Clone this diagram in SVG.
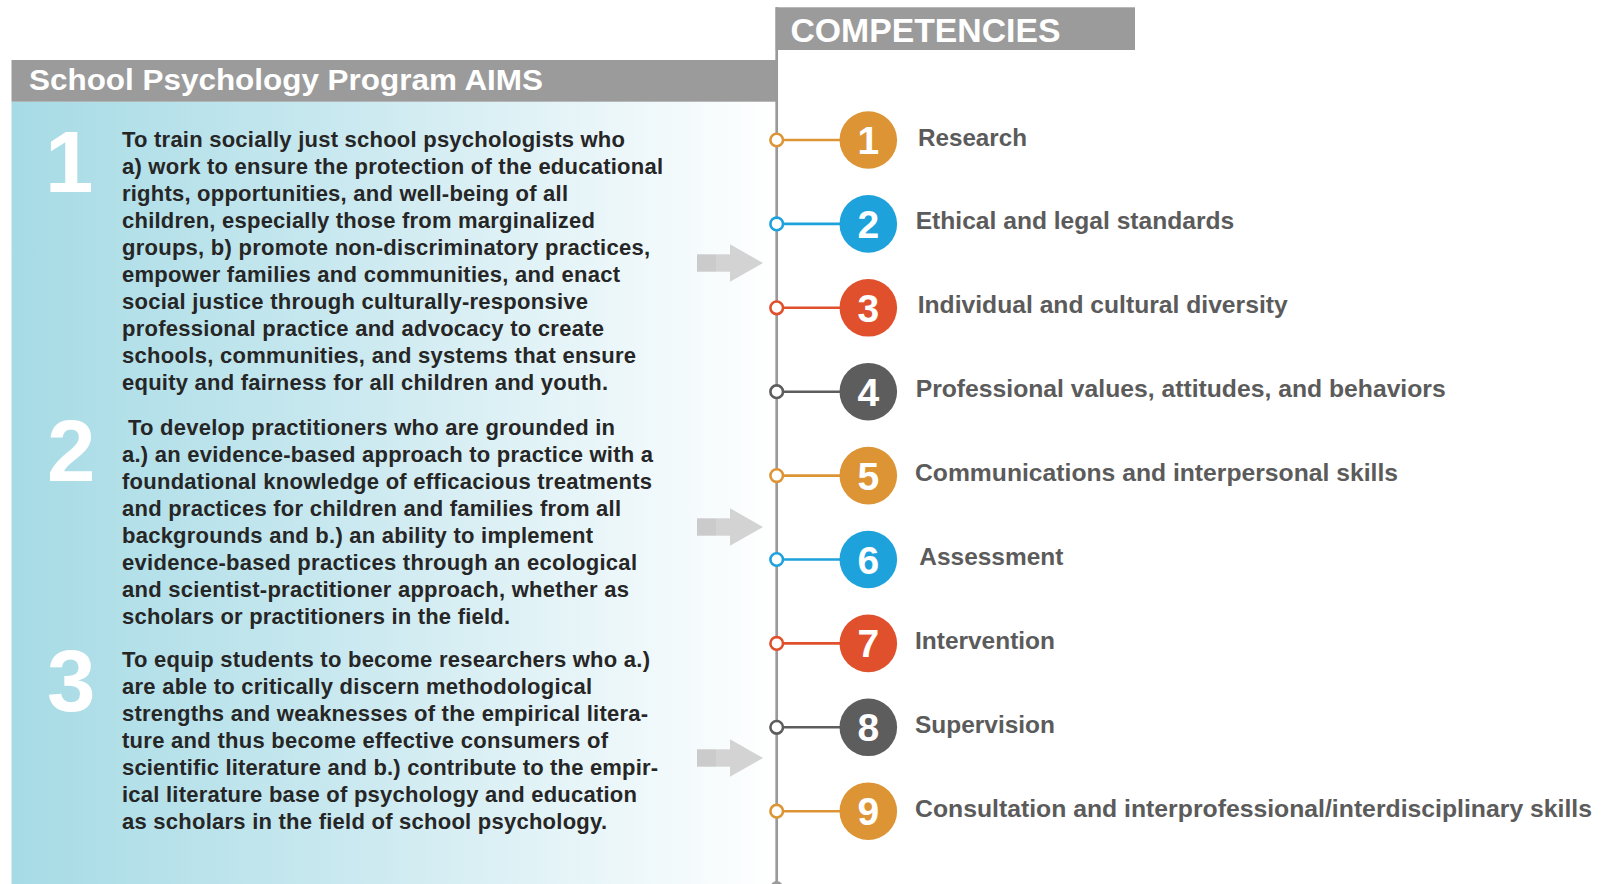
<svg xmlns="http://www.w3.org/2000/svg" width="1604" height="884" viewBox="0 0 1604 884">
<defs>
<linearGradient id="panelGrad" x1="0" y1="0" x2="1" y2="0">
<stop offset="0" stop-color="#a6dbe5"/>
<stop offset="0.45" stop-color="#cbe9f0"/>
<stop offset="1" stop-color="#ffffff"/>
</linearGradient>
<style>
.hdr{font-family:"Liberation Sans",Arial,sans-serif;font-weight:bold;fill:#ffffff}
.para{font-family:"Liberation Sans",Arial,sans-serif;font-weight:bold;font-size:22px;fill:#262626}
.bignum{font-family:"Liberation Sans",Arial,sans-serif;font-weight:bold;font-size:87px;fill:#ffffff}
.lbl{font-family:"Liberation Sans",Arial,sans-serif;font-weight:bold;font-size:24.5px;fill:#5b5b5b}
.cnum{font-family:"Liberation Sans",Arial,sans-serif;font-weight:bold;font-size:39px;fill:#ffffff;text-anchor:middle}
.arrowA{fill:#cbcbcb}
.arrowB{fill:#d3d3d3}
.mk{fill:#ffffff;stroke-width:2.6}
.cn{stroke-width:2.6}
.orange{fill:#dd9434}.blue{fill:#1ea2dc}.red{fill:#e0502d}.dark{fill:#5d5d5d}
.so{stroke:#dd9434}.sb{stroke:#1ea2dc}.sr{stroke:#e0502d}.sd{stroke:#5d5d5d}
</style>
</defs>

<g id="aims-panel">
<rect x="11.5" y="101.7" width="765" height="782.3" fill="url(#panelGrad)"/>
<rect x="11.5" y="60" width="765" height="41.7" fill="#9b9b9b"/>
<text class="hdr" x="29" y="90" font-size="30" textLength="514" lengthAdjust="spacingAndGlyphs">School Psychology Program AIMS</text>
</g>

<g id="competencies-header">
<rect x="775.7" y="7.3" width="359.3" height="42.7" fill="#9b9b9b"/>
<text class="hdr" x="790.5" y="42.3" font-size="32.5" textLength="270" lengthAdjust="spacingAndGlyphs">COMPETENCIES</text>
</g>

<g id="aim-1">
<text class="bignum" x="45" y="191.7">1</text>
<text class="para" lengthAdjust="spacingAndGlyphs">
<tspan x="122" y="146.7" textLength="503">To train socially just school psychologists who</tspan>
<tspan x="122" y="173.75" textLength="541">a) work to ensure the protection of the educational</tspan>
<tspan x="122" y="200.8" textLength="446">rights, opportunities, and well-being of all</tspan>
<tspan x="122" y="227.85" textLength="473">children, especially those from marginalized</tspan>
<tspan x="122" y="254.9" textLength="528">groups, b) promote non-discriminatory practices,</tspan>
<tspan x="122" y="281.95" textLength="498">empower families and communities, and enact</tspan>
<tspan x="122" y="309" textLength="466">social justice through culturally-responsive</tspan>
<tspan x="122" y="336.05" textLength="482">professional practice and advocacy to create</tspan>
<tspan x="122" y="363.1" textLength="514">schools, communities, and systems that ensure</tspan>
<tspan x="122" y="390.15" textLength="486">equity and fairness for all children and youth.</tspan>
</text>
</g>

<g id="aim-2">
<text class="bignum" x="47" y="481">2</text>
<text class="para" lengthAdjust="spacingAndGlyphs">
<tspan x="128" y="435" textLength="487">To develop practitioners who are grounded in</tspan>
<tspan x="122" y="462" textLength="531">a.) an evidence-based approach to practice with a</tspan>
<tspan x="122" y="489" textLength="530">foundational knowledge of efficacious treatments</tspan>
<tspan x="122" y="516" textLength="499">and practices for children and families from all</tspan>
<tspan x="122" y="543" textLength="471">backgrounds and b.) an ability to implement</tspan>
<tspan x="122" y="570" textLength="515">evidence-based practices through an ecological</tspan>
<tspan x="122" y="597" textLength="507">and scientist-practitioner approach, whether as</tspan>
<tspan x="122" y="624" textLength="388">scholars or practitioners in the field.</tspan>
</text>
</g>

<g id="aim-3">
<text class="bignum" x="47" y="711">3</text>
<text class="para" lengthAdjust="spacingAndGlyphs">
<tspan x="122" y="666.7" textLength="528">To equip students to become researchers who a.)</tspan>
<tspan x="122" y="693.8" textLength="470">are able to critically discern methodological</tspan>
<tspan x="122" y="720.9" textLength="526">strengths and weaknesses of the empirical litera-</tspan>
<tspan x="122" y="748" textLength="486">ture and thus become effective consumers of</tspan>
<tspan x="122" y="775.1" textLength="536">scientific literature and b.) contribute to the empir-</tspan>
<tspan x="122" y="802.2" textLength="515">ical literature base of psychology and education</tspan>
<tspan x="122" y="829.3" textLength="485">as scholars in the field of school psychology.</tspan>
</text>
</g>

<g id="connectors">
<g id="aim-arrows">
<g transform="translate(0,263)"><rect class="arrowA" x="697" y="-8.7" width="19" height="17.4"/><rect class="arrowB" x="716" y="-8.7" width="15" height="17.4"/><polygon class="arrowB" points="730,-18.7 763,0 730,18.7"/></g>
<g transform="translate(0,527)"><rect class="arrowA" x="697" y="-8.7" width="19" height="17.4"/><rect class="arrowB" x="716" y="-8.7" width="15" height="17.4"/><polygon class="arrowB" points="730,-18.7 763,0 730,18.7"/></g>
<g transform="translate(0,758)"><rect class="arrowA" x="697" y="-8.7" width="19" height="17.4"/><rect class="arrowB" x="716" y="-8.7" width="15" height="17.4"/><polygon class="arrowB" points="730,-18.7 763,0 730,18.7"/></g>
</g>
<line x1="776.7" y1="7.3" x2="776.7" y2="886" stroke="#9a9a9a" stroke-width="2.7"/>
<circle cx="776.7" cy="887" r="6" fill="#9a9a9a"/>
<line class="cn so" x1="776.7" y1="140" x2="845" y2="140"/>
<line class="cn sb" x1="776.7" y1="223.9" x2="845" y2="223.9"/>
<line class="cn sr" x1="776.7" y1="307.8" x2="845" y2="307.8"/>
<line class="cn sd" x1="776.7" y1="391.7" x2="845" y2="391.7"/>
<line class="cn so" x1="776.7" y1="475.6" x2="845" y2="475.6"/>
<line class="cn sb" x1="776.7" y1="559.5" x2="845" y2="559.5"/>
<line class="cn sr" x1="776.7" y1="643.4" x2="845" y2="643.4"/>
<line class="cn sd" x1="776.7" y1="727.3" x2="845" y2="727.3"/>
<line class="cn so" x1="776.7" y1="811.2" x2="845" y2="811.2"/>
<circle class="mk so" cx="776.7" cy="140" r="6.3"/>
<circle class="mk sb" cx="776.7" cy="223.9" r="6.3"/>
<circle class="mk sr" cx="776.7" cy="307.8" r="6.3"/>
<circle class="mk sd" cx="776.7" cy="391.7" r="6.3"/>
<circle class="mk so" cx="776.7" cy="475.6" r="6.3"/>
<circle class="mk sb" cx="776.7" cy="559.5" r="6.3"/>
<circle class="mk sr" cx="776.7" cy="643.4" r="6.3"/>
<circle class="mk sd" cx="776.7" cy="727.3" r="6.3"/>
<circle class="mk so" cx="776.7" cy="811.2" r="6.3"/>
</g>

<g id="comp-1"><circle class="orange" cx="868.3" cy="140" r="28.8"/><text class="cnum" x="868.3" y="154">1</text><text class="lbl" x="918" y="145.5" textLength="109" lengthAdjust="spacingAndGlyphs">Research</text></g>
<g id="comp-2"><circle class="blue" cx="868.3" cy="223.9" r="28.8"/><text class="cnum" x="868.3" y="237.9">2</text><text class="lbl" x="915.7" y="229.4" textLength="318.6" lengthAdjust="spacingAndGlyphs">Ethical and legal standards</text></g>
<g id="comp-3"><circle class="red" cx="868.3" cy="307.8" r="28.8"/><text class="cnum" x="868.3" y="321.8">3</text><text class="lbl" x="917.7" y="313.3" textLength="370" lengthAdjust="spacingAndGlyphs">Individual and cultural diversity</text></g>
<g id="comp-4"><circle class="dark" cx="868.3" cy="391.7" r="28.8"/><text class="cnum" x="868.3" y="405.7">4</text><text class="lbl" x="915.7" y="397.2" textLength="530" lengthAdjust="spacingAndGlyphs">Professional values, attitudes, and behaviors</text></g>
<g id="comp-5"><circle class="orange" cx="868.3" cy="475.6" r="28.8"/><text class="cnum" x="868.3" y="489.6">5</text><text class="lbl" x="915" y="481.1" textLength="483" lengthAdjust="spacingAndGlyphs">Communications and interpersonal skills</text></g>
<g id="comp-6"><circle class="blue" cx="868.3" cy="559.5" r="28.8"/><text class="cnum" x="868.3" y="573.5">6</text><text class="lbl" x="919.3" y="565" textLength="144" lengthAdjust="spacingAndGlyphs">Assessment</text></g>
<g id="comp-7"><circle class="red" cx="868.3" cy="643.4" r="28.8"/><text class="cnum" x="868.3" y="657.4">7</text><text class="lbl" x="915" y="648.9" textLength="140" lengthAdjust="spacingAndGlyphs">Intervention</text></g>
<g id="comp-8"><circle class="dark" cx="868.3" cy="727.3" r="28.8"/><text class="cnum" x="868.3" y="741.3">8</text><text class="lbl" x="915" y="732.8" textLength="140" lengthAdjust="spacingAndGlyphs">Supervision</text></g>
<g id="comp-9"><circle class="orange" cx="868.3" cy="811.2" r="28.8"/><text class="cnum" x="868.3" y="825.2">9</text><text class="lbl" x="915" y="816.7" textLength="677" lengthAdjust="spacingAndGlyphs">Consultation and interprofessional/interdisciplinary skills</text></g>
</svg>
